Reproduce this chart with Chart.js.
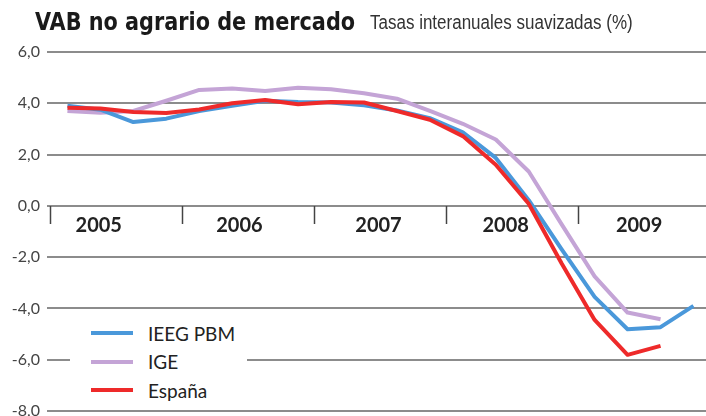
<!DOCTYPE html>
<html><head><meta charset="utf-8">
<script src="https://cdn.jsdelivr.net/npm/chart.js@4.4.1/dist/chart.umd.min.js"></script>
<style>
html,body{margin:0;padding:0;width:706px;height:416px;overflow:hidden;background:#fff;}
#wrap{position:relative;width:706px;height:416px;overflow:hidden;}
#c{position:absolute;left:0;top:0;}
#title{position:absolute;left:35px;top:9px;line-height:1;white-space:nowrap;font-family:"DejaVu Sans Condensed","DejaVu Sans";font-weight:bold;font-size:25px;color:#1a1a1a;transform:scaleX(0.925);transform-origin:0 0;}
#subtitle{position:absolute;left:370px;top:12px;line-height:1;white-space:nowrap;font-family:"Liberation Sans";font-size:20px;color:#333;transform:scaleX(0.85);transform-origin:0 0;}
#legend{position:absolute;left:70px;top:319px;width:177px;height:85px;background:#fff;}
.li{display:flex;align-items:center;height:28.5px;}
.sw{width:42px;height:4px;margin-left:21px;}
.lt{margin-left:15px;font-family:Lato;font-size:19px;color:#222;}
</style></head>
<body><div id="wrap">
<canvas id="c" width="706" height="430"></canvas>
<div id="title">VAB no agrario de mercado</div>
<div id="subtitle">Tasas interanuales suavizadas (%)</div>
<div id="legend"></div>
</div>
<script>
const years = ['2005','2006','2007','2008','2009'];
const quarters = ['2005T1','2005T2','2005T3','2005T4','2006T1','2006T2','2006T3','2006T4','2007T1','2007T2','2007T3','2007T4','2008T1','2008T2','2008T3','2008T4','2009T1','2009T2','2009T3','2009T4'];
const ieegPBM = [3.9, 3.75, 3.27, 3.4, 3.7, 3.9, 4.1, 4.05, 4.03, 3.92, 3.72, 3.42, 2.87, 1.87, 0.22, -1.7, -3.55, -4.81, -4.73, -3.9];
const ige = [3.7, 3.63, 3.7, 4.1, 4.52, 4.58, 4.48, 4.61, 4.55, 4.39, 4.18, 3.7, 3.2, 2.59, 1.34, -0.72, -2.75, -4.16, -4.42, null];
const espana = [3.83, 3.8, 3.66, 3.62, 3.76, 4.0, 4.13, 3.96, 4.05, 4.03, 3.7, 3.36, 2.72, 1.6, 0.08, -2.25, -4.45, -5.81, -5.46, null];
const yTicks = [-8, -6, -4, -2, 0, 2, 4, 6];

const yearBounds = years.map((y, i) => i * 4);
// label anchor inside each year span (in quarters), slightly left of centre as in the source
const labelShift = [-0.55, -0.28, -0.06, -0.2, -0.15];
const yearCenters = years.map((y, i) => i * 4 + 2 + labelShift[i]);
function pts(arr) {
  return arr.map((v, i) => ({x: i + 0.5, y: v})).filter(p => p.y !== null);
}
const datasets = [
  {label: 'IEEG PBM', data: pts(ieegPBM), borderColor: '#4a98da', order: 1},
  {label: 'IGE', data: pts(ige), borderColor: '#c4a4d6', order: 2},
  {label: 'España', data: pts(espana), borderColor: '#ee2a2a', order: 0}
];
datasets.forEach(d => { d.borderWidth = 4; d.pointRadius = 0; d.fill = false; d.tension = 0; d.borderJoinStyle = 'round'; });

const xMin = -0.12, xMax = quarters.length - 0.12;

const chart = new Chart(document.getElementById('c'), {
  type: 'line',
  data: {datasets},
  options: {
    responsive: false, animation: false, devicePixelRatio: 1,
    layout: {padding: {top: 52, right: 0, bottom: 19, left: 0}},
    plugins: {legend: {display: false}, tooltip: {enabled: false}},
    scales: {
      y: {
        type: 'linear', min: -8, max: 6,
        afterFit(s) { s.width = 47; },
        afterBuildTicks(s) { s.ticks = yTicks.map(v => ({value: v})); },
        ticks: {padding: 7, color: '#444', font: {family: 'Lato', size: 16},
          callback: v => v.toFixed(1).replace('.', ',')},
        grid: {color: '#8c8c8c', lineWidth: 2, drawTicks: false},
        border: {display: false}
      },
      x: {
        type: 'linear', min: xMin, max: xMax, position: {y: 0},
        afterBuildTicks(s) { s.ticks = yearBounds.map(v => ({value: v})); },
        ticks: {display: false},
        grid: {drawOnChartArea: false, drawTicks: true, tickLength: 18, tickColor: '#444', tickWidth: 1.5},
        border: {display: false}
      },
      x2: {
        type: 'linear', axis: 'x', min: xMin, max: xMax, position: {y: 0},
        afterBuildTicks(s) { s.ticks = yearCenters.map(v => ({value: v})); },
        ticks: {autoSkip: false, maxRotation: 0, padding: 8, color: '#222',
          font: {family: 'Lato', size: 20, weight: 'bold'},
          callback: v => years[yearCenters.indexOf(v)]},
        grid: {display: false, drawTicks: false},
        border: {display: false}
      }
    }
  }
});

const lg = document.getElementById('legend');
chart.data.datasets.forEach(d => {
  const row = document.createElement('div'); row.className = 'li';
  const sw = document.createElement('div'); sw.className = 'sw'; sw.style.background = d.borderColor;
  const t = document.createElement('span'); t.className = 'lt'; t.textContent = d.label;
  row.appendChild(sw); row.appendChild(t); lg.appendChild(row);
});
</script>
</body></html>
